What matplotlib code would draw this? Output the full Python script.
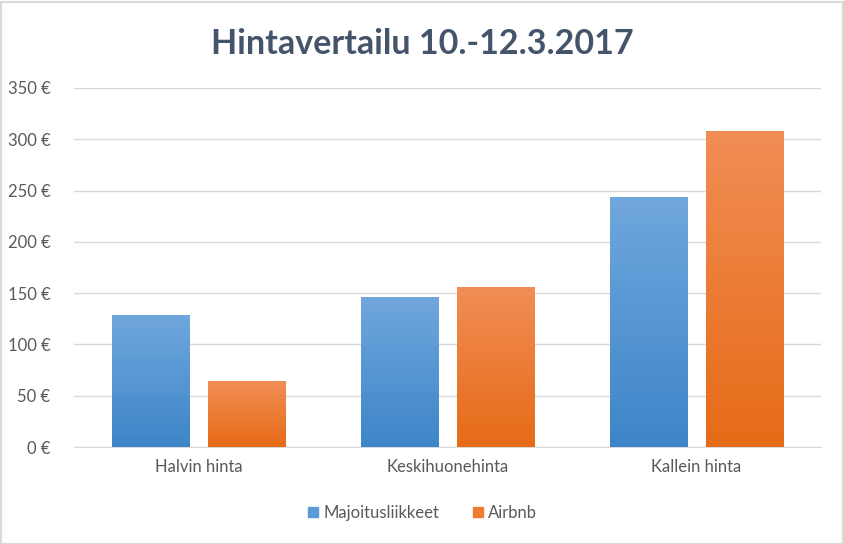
import matplotlib
matplotlib.use("Agg")
import matplotlib.pyplot as plt
import numpy as np
from matplotlib.colors import LinearSegmentedColormap
from matplotlib.patches import Rectangle

categories = ["Halvin hinta", "Keskihuonehinta", "Kallein hinta"]
majoitus = [129, 146, 244]
airbnb = [64, 156, 308]
series_names = ["Majoitusliikkeet", "Airbnb"]
yticks = [0, 50, 100, 150, 200, 250, 300, 350]

plt.rcParams['font.family'] = ['Lato', 'DejaVu Sans']

fig = plt.figure(figsize=(8.45, 5.44), dpi=100)
fig.patch.set_facecolor('white')
ax = fig.add_axes([74/845, 1-447/544, (821-74)/845, (447-88)/544])

x = np.arange(len(categories))
w = 0.31
gap = 0.076
off = (w + gap) / 2

cmaps = [
    LinearSegmentedColormap.from_list('b', ['#3d85c8', '#70a7dd']),
    LinearSegmentedColormap.from_list('o', ['#e66b17', '#f18d55']),
]
base = ['#5b9bd5', '#ed7d31']
grad = np.linspace(0, 1, 256).reshape(-1, 1)
for i, vals in enumerate([majoitus, airbnb]):
    pos = x - off if i == 0 else x + off
    bars = ax.bar(pos, vals, w, color=base[i], label=series_names[i], zorder=2)
    for b in bars:
        b.set_alpha(0)
        bx, by = b.get_x(), b.get_y()
        bw, bh = b.get_width(), b.get_height()
        im = ax.imshow(grad, cmap=cmaps[i], aspect='auto', origin='lower',
                       extent=[bx, bx + bw, by, by + bh], zorder=3)
        clip = Rectangle((bx, by), bw, bh, transform=ax.transData)
        im.set_clip_path(clip)

ax.set_xlim(-0.5, 2.5)
ax.set_ylim(0, 350)
ax.set_yticks(yticks)
ax.set_yticklabels([f"{v} €" for v in yticks])
ax.set_xticks(x)
ax.set_xticklabels(categories)
ax.grid(axis='y', color='#d9d9d9', linewidth=1, zorder=0)
ax.set_axisbelow(True)
for s in ['top', 'right', 'left']:
    ax.spines[s].set_visible(False)
ax.spines['bottom'].set_color('#d9d9d9')
ax.tick_params(axis='both', length=0, colors='#595959', labelsize=12)
ax.tick_params(axis='y', pad=17)
ax.tick_params(axis='x', pad=9)

fig.text(0.5, 1 - 44/544, "Hintavertailu 10.-12.3.2017", ha='center', va='center',
         fontsize=24.5, fontweight='bold', color='#44546a')

handles = [Rectangle((0, 0), 1, 1, color=base[0]), Rectangle((0, 0), 1, 1, color=base[1])]
leg = fig.legend(handles, series_names, loc='center', bbox_to_anchor=(0.5, 1 - 513/544),
                 ncol=2, frameon=False, fontsize=12, handlelength=0.6, handleheight=0.6,
                 handletextpad=0.35, columnspacing=2.0)
for t in leg.get_texts():
    t.set_color('#595959')

border = Rectangle((0.5/845, 0.5/544), 1 - 2/845, 1 - 2/544, transform=fig.transFigure,
                   fill=False, edgecolor='#d9d9d9', linewidth=1.5)
fig.patches.append(border)

fig.savefig('out.png', dpi=100, facecolor='white')
